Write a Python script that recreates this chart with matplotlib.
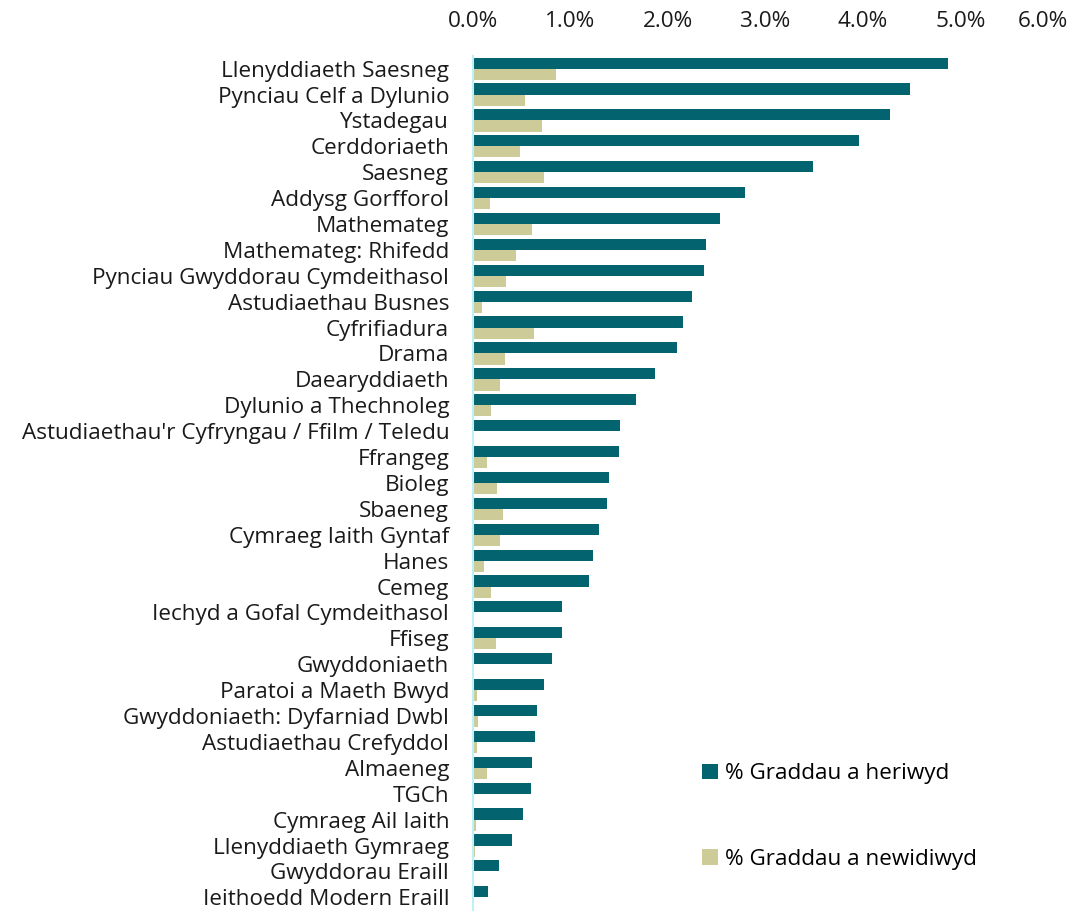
import matplotlib.pyplot as plt
import numpy as np
from matplotlib.ticker import PercentFormatter
from matplotlib.transforms import ScaledTranslation

plt.rcParams['font.family'] = ['Open Sans', 'DejaVu Sans']

# subjects, top to bottom
subjects = [
    "Llenyddiaeth Saesneg", "Pynciau Celf a Dylunio", "Ystadegau", "Cerddoriaeth",
    "Saesneg", "Addysg Gorfforol", "Mathemateg", "Mathemateg: Rhifedd",
    "Pynciau Gwyddorau Cymdeithasol", "Astudiaethau Busnes", "Cyfrifiadura", "Drama",
    "Daearyddiaeth", "Dylunio a Thechnoleg",
    "Astudiaethau'r Cyfryngau / Ffilm / Teledu", "Ffrangeg", "Bioleg", "Sbaeneg",
    "Cymraeg Iaith Gyntaf", "Hanes", "Cemeg", "Iechyd a Gofal Cymdeithasol", "Ffiseg",
    "Gwyddoniaeth", "Paratoi a Maeth Bwyd", "Gwyddoniaeth: Dyfarniad Dwbl",
    "Astudiaethau Crefyddol", "Almaeneg", "TGCh", "Cymraeg Ail Iaith",
    "Llenyddiaeth Gymraeg", "Gwyddorau Eraill", "Ieithoedd Modern Eraill",
]
# % of grades challenged
heriwyd = [4.87, 4.48, 4.28, 3.96, 3.49, 2.79, 2.53, 2.39, 2.37, 2.25, 2.16, 2.09,
           1.87, 1.67, 1.51, 1.50, 1.40, 1.38, 1.29, 1.23, 1.19, 0.92, 0.92,
           0.81, 0.73, 0.66, 0.64, 0.61, 0.60, 0.52, 0.40, 0.27, 0.16]
# % of grades changed
newidiwyd = [0.85, 0.54, 0.71, 0.48, 0.73, 0.18, 0.61, 0.44, 0.34, 0.09, 0.63, 0.33,
             0.28, 0.19, 0.0, 0.15, 0.25, 0.31, 0.28, 0.12, 0.19, 0.0, 0.24,
             0.0, 0.04, 0.05, 0.04, 0.15, 0.01, 0.03, 0.02, 0.0, 0.0]

teal = "#03636F"
beige = "#CDCC98"
fs = 16.2

fig = plt.figure(figsize=(10.72, 9.13), dpi=100)
ax = fig.add_axes([0.441, 0.003, 0.546, 0.936])

y = np.arange(len(subjects))
h = 0.43
ax.barh(y - h / 2, heriwyd, height=h, color=teal, label="% Graddau a heriwyd")
ax.barh(y + h / 2, newidiwyd, height=h, color=beige, label="% Graddau a newidiwyd")

ax.set_ylim(len(subjects) - 0.5, -0.5)
ax.set_xlim(0, 6)
ax.set_yticks(y)
ax.set_yticklabels(subjects, fontsize=fs, color="#1a1a1a")
ax.xaxis.tick_top()
ax.set_xticks(np.arange(0, 7, 1))
ax.xaxis.set_major_formatter(PercentFormatter(decimals=1))
ax.tick_params(axis="x", length=0, labelsize=fs, labelcolor="#1a1a1a", pad=17)
ax.tick_params(axis="y", length=0, pad=17)

# last label pulled in so it stays inside the figure
fig.canvas.draw()
last = ax.get_xticklabels()[-1]
last.set_horizontalalignment("right")
last.set_transform(last.get_transform() + ScaledTranslation(10 / 100, 0, fig.dpi_scale_trans))

for s in ["top", "right", "bottom"]:
    ax.spines[s].set_visible(False)
ax.spines["left"].set_color("#BFEFF7")
ax.spines["left"].set_linewidth(1.5)

leg = ax.legend(loc="upper left", bbox_to_anchor=(0.636, 0.186), bbox_transform=fig.transFigure,
                frameon=False, fontsize=fs, handlelength=0.7, handleheight=0.7,
                handletextpad=0.3, labelspacing=2.85)

fig.savefig("out.png", dpi=100)
